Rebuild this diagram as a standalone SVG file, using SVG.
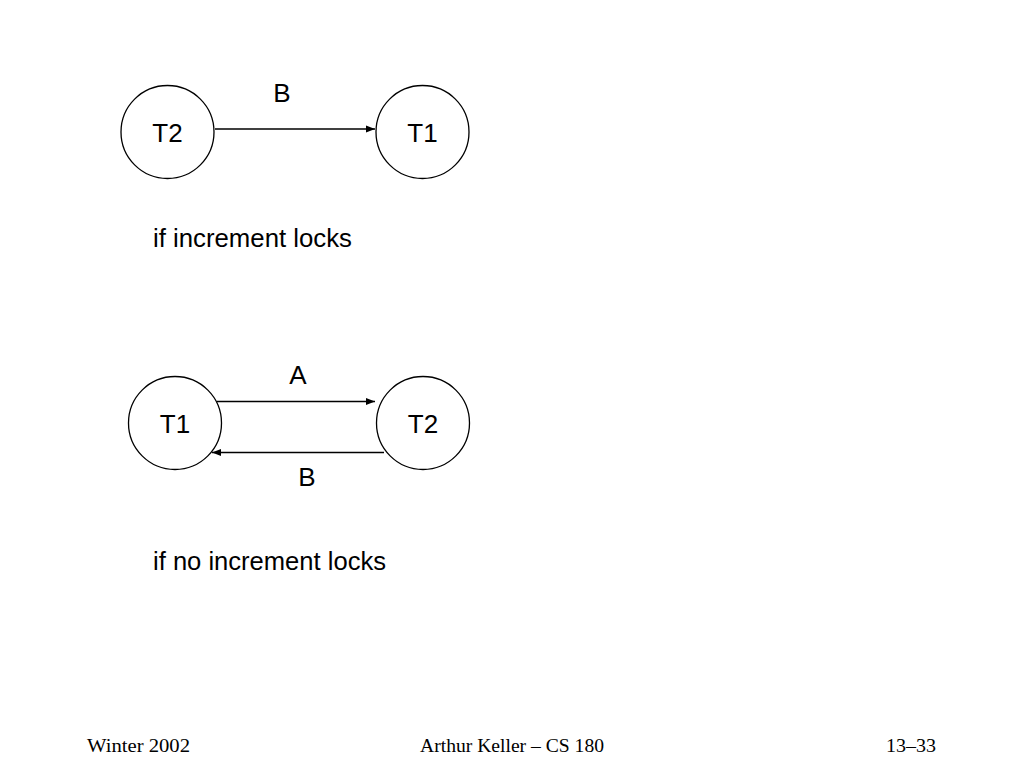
<svg xmlns="http://www.w3.org/2000/svg" width="1024" height="768" viewBox="0 0 1024 768">
<defs>
<style>
.node{fill:#fff;stroke:#000;stroke-width:1.3}
.lbl{font-family:"Liberation Sans",Arial,sans-serif;font-size:26px;fill:#000;text-anchor:middle;dominant-baseline:central}
.cap{font-family:"Liberation Sans",Arial,sans-serif;font-size:25px;fill:#000}
.edge{stroke:#000;stroke-width:1.3;fill:none;marker-end:url(#ah)}
.foot{font-family:"Liberation Serif","Times New Roman",serif;font-size:19px;fill:#000}
</style>
<marker id="ah" viewBox="0 0 10 10" refX="10" refY="5" markerWidth="9" markerHeight="9" markerUnits="userSpaceOnUse" orient="auto">
<path d="M0,1 L10,5 L0,9 z" fill="#000"/>
</marker>
</defs>
<rect width="1024" height="768" fill="#fff"/>
<g id="connectors">
<line class="edge" x1="215" y1="129" x2="375" y2="129"/>
<text class="lbl" x="282" y="93">B</text>
<line class="edge" x1="217" y1="401.5" x2="375" y2="401.5"/>
<text class="lbl" x="298" y="375">A</text>
<line class="edge" x1="384" y1="452.5" x2="212" y2="452.5"/>
<text class="lbl" x="307" y="477">B</text>
</g>
<g id="top-T2"><circle class="node" cx="167.5" cy="132" r="46.5"/><text class="lbl" x="167.5" y="132.5">T2</text></g>
<g id="top-T1"><circle class="node" cx="422.5" cy="132" r="46.5"/><text class="lbl" x="422.5" y="132.5">T1</text></g>
<g id="bot-T1"><circle class="node" cx="175" cy="423" r="46.5"/><text class="lbl" x="175" y="423.5">T1</text></g>
<g id="bot-T2"><circle class="node" cx="423" cy="423" r="46.5"/><text class="lbl" x="423" y="423.5">T2</text></g>
<text class="cap" x="153" y="247" textLength="199" lengthAdjust="spacingAndGlyphs">if increment locks</text>
<text class="cap" x="153" y="570" textLength="233" lengthAdjust="spacingAndGlyphs">if no increment locks</text>
<text class="foot" x="87" y="752" textLength="103" lengthAdjust="spacingAndGlyphs">Winter 2002</text>
<text class="foot" x="420" y="752" textLength="184" lengthAdjust="spacingAndGlyphs">Arthur Keller – CS 180</text>
<text class="foot" x="886" y="752" textLength="50" lengthAdjust="spacingAndGlyphs">13–33</text>
</svg>
